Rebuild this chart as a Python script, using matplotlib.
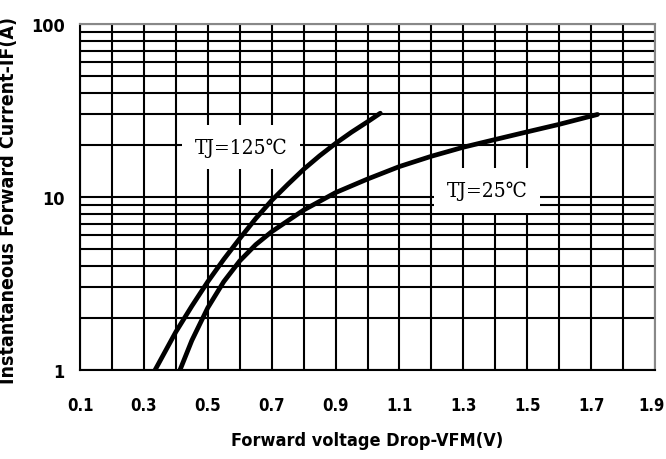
import numpy as np
import matplotlib.pyplot as plt
import matplotlib.transforms as mtransforms
from matplotlib.ticker import FixedLocator, NullFormatter

# forward characteristics
vf_125 = [0.335, 0.40, 0.45, 0.50, 0.55, 0.60, 0.65, 0.70, 0.75, 0.80, 0.85, 0.90, 0.95, 1.00, 1.04]
if_125 = [1.0, 1.66, 2.34, 3.24, 4.36, 5.75, 7.5, 9.55, 11.8, 14.45, 17.3, 20.4, 23.7, 27.2, 30.5]

vf_25 = [0.413, 0.45, 0.50, 0.55, 0.60, 0.65, 0.70, 0.80, 0.90, 1.00, 1.10, 1.20, 1.30, 1.40, 1.50, 1.60, 1.72]
if_25 = [1.0, 1.48, 2.29, 3.24, 4.27, 5.3, 6.3, 8.4, 10.6, 12.7, 15.0, 17.2, 19.4, 21.5, 23.8, 26.3, 30.0]

x_ticks = [0.1, 0.3, 0.5, 0.7, 0.9, 1.1, 1.3, 1.5, 1.7, 1.9]
y_ticks = [1, 10, 100]

fig = plt.figure(figsize=(6.66, 4.6), dpi=100)
ax = fig.add_axes([80 / 666, 1 - 371 / 460, 575 / 666, 346 / 460])

ax.set_yscale('log')
ax.set_xlim(0.1, 1.9)
ax.set_ylim(1, 100)

## grid every 0.1 V and every log step
ax.xaxis.set_major_locator(FixedLocator(x_ticks))
ax.xaxis.set_minor_locator(FixedLocator(np.round(np.arange(0.2, 1.9, 0.2), 2)))
ax.yaxis.set_major_locator(FixedLocator(y_ticks))
ax.yaxis.set_minor_locator(FixedLocator([m * d for d in (1, 10) for m in range(2, 10)]))
ax.yaxis.set_minor_formatter(NullFormatter())
ax.grid(True, which='both', color='black', linewidth=1.5)
ax.set_axisbelow(True)
ax.tick_params(which='both', length=0)
ax.tick_params(axis='x', pad=19)
ax.tick_params(axis='y', pad=11)

tick_kw = dict(fontfamily='DejaVu Sans', fontstretch='condensed', fontweight='bold')
ax.set_xticklabels([f'{v:.1f}' for v in x_ticks], fontsize=12, **tick_kw)
ax.set_yticklabels([str(v) for v in y_ticks], fontsize=13, **tick_kw)

# last x label sits right at the figure edge, nudge it in a little
last = ax.get_xticklabels()[-1]
last.set_transform(last.get_transform() + mtransforms.ScaledTranslation(-4 / 100, 0, fig.dpi_scale_trans))

for s in ax.spines.values():
    s.set_color('#888888')
    s.set_linewidth(1.5)
ax.spines['bottom'].set_color('black')
ax.spines['left'].set_color('black')

ax.plot(vf_125, if_125, color='black', linewidth=3.4, solid_capstyle='round')
ax.plot(vf_25, if_25, color='black', linewidth=3.4, solid_capstyle='round')

box = dict(facecolor='white', edgecolor='none', boxstyle='square,pad=0.6')
note_kw = dict(fontfamily='DejaVu Serif', fontstretch='condensed', fontsize=15,
               ha='center', va='center', bbox=box)
ax.text(0.604, 19.5, 'TJ=125℃', **note_kw)
ax.text(1.375, 10.9, 'TJ=25℃', **note_kw)

ax.set_xlabel('Forward voltage Drop-VFM(V)', fontsize=13, labelpad=12, **tick_kw)
ax.set_ylabel('Instantaneous Forward Current-IF(A)', fontsize=14, **tick_kw)
ax.yaxis.set_label_coords(-0.108, 0.494)

fig.savefig('out.png', dpi=100)
